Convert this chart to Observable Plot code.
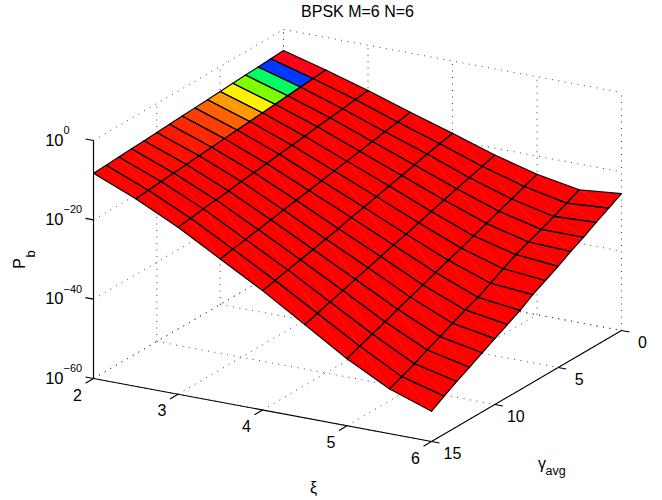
<!DOCTYPE html>
<html>
<head>
<meta charset="utf-8">
<script src="https://cdn.jsdelivr.net/npm/d3@7"></script>
<script src="https://cdn.jsdelivr.net/npm/@observablehq/plot@0.6"></script>
<style>html,body{margin:0;padding:0;background:#fff}svg{display:block}</style>
</head>
<body>
<div id="chart"></div>
<script>
// Values: log10(Pb) for each xi, gamma = 0..15
const xiValues = [2, 2.5, 3, 3.5, 4, 4.5, 5, 5.5, 6];
const gammaValues = [0,1,2,3,4,5,6,7,8,9,10,11,12,13,14,15];
const logXi20 = [-5.3,-5.5,-5.7,-5.9,-6.1,-6.3,-6.5,-6.7,-6.9,-7.1,-7.3,-7.5,-7.7,-7.9,-8.1,-8.25];
const logXi25 = [-8.2,-8.5,-8.8,-9.1,-9.4,-9.7,-10.0,-10.3,-10.6,-10.9,-11.2,-11.5,-11.8,-12.1,-12.4,-12.7];
const logXi30 = [-11.4,-11.8,-12.3,-12.7,-13.1,-13.6,-14.0,-14.4,-14.9,-15.3,-15.7,-16.2,-16.6,-17.0,-17.5,-17.9];
const logXi35 = [-14.9,-15.5,-16.1,-16.7,-17.3,-17.9,-18.5,-19.1,-19.7,-20.3,-20.9,-21.5,-22.1,-22.7,-23.3,-23.9];
const logXi40 = [-18.2,-19.0,-19.7,-20.6,-21.4,-22.2,-23.0,-23.8,-24.5,-25.5,-26.2,-27.0,-27.7,-28.4,-29.2,-29.9];
const logXi45 = [-21.7,-22.7,-23.7,-24.6,-25.6,-26.6,-27.6,-28.6,-29.5,-30.5,-31.5,-32.5,-33.5,-34.5,-35.5,-36.5];
const logXi50 = [-24.6,-25.8,-27.1,-28.3,-29.5,-30.8,-32.0,-33.2,-34.4,-35.7,-36.9,-38.1,-39.4,-40.6,-41.8,-43.1];
const logXi55 = [-26.5,-28.0,-29.5,-30.9,-32.2,-33.5,-35.2,-37.0,-38.7,-40.0,-41.5,-43.0,-44.5,-46.1,-47.5,-48.7];
const logXi60 = [-25.5,-27.3,-29.0,-30.9,-32.6,-34.5,-36.2,-37.9,-40.0,-41.7,-43.4,-45.1,-46.9,-48.6,-50.4,-52.4];
const logGrid = [logXi20,logXi25,logXi30,logXi35,logXi40,logXi45,logXi50,logXi55,logXi60];

const xiTicks = [2,3,4,5,6];
const gammaTicks = [0,5,10,15];
const zTicks = [0,-20,-40,-60];
const hsvStops = ["#ff0000","#ffff00","#00ff00","#00ffff","#0000ff","#ff00ff","#ff0018"];

// Orthographic view of the 3-D box (MATLAB az/el) onto the scales' plane.
function view(xi, g, z) {
  const a = (xi - 2) / 4, b = (15 - g) / 15, c = (z + 60) / 60;
  return [93 + 338 * a + 190 * b, 378 + 63 * a - 111 * b - 238 * c];
}
const link = (p, q) => { const A = view(...p), B = view(...q); return {x1:A[0], y1:A[1], x2:B[0], y2:B[1]}; };

const pMax = Math.max(...logGrid.flat());
const cells = [], seams = [];
for (let i = 0; i < xiValues.length - 1; i++) for (let j = 0; j < gammaValues.length - 1; j++) {
  const corners = [[i,j],[i+1,j],[i+1,j+1],[i,j+1],[i,j]];
  const value = Math.pow(10, logGrid[i][j] - pMax);
  for (const [m,n] of corners) {
    const [x,y] = view(xiValues[m], gammaValues[n], logGrid[m][n]);
    cells.push({x, y, cell: i + "-" + j, value});
  }
  seams.push(link([xiValues[i],gammaValues[j],logGrid[i][j]], [xiValues[i+1],gammaValues[j+1],logGrid[i+1][j+1]]));
}

const grid = [];
for (const z of zTicks) {
  grid.push(link([2,15,z],[2,0,z]));
  grid.push(link([2,0,z],[6,0,z]));
}
for (const g of gammaTicks) {
  grid.push(link([2,g,-60],[2,g,0]));
  grid.push(link([2,g,-60],[6,g,-60]));
}
for (const xi of xiTicks) {
  grid.push(link([xi,0,-60],[xi,0,0]));
  grid.push(link([xi,15,-60],[xi,0,-60]));
}

const axes = [link([2,15,0],[2,15,-60]), link([2,15,-60],[6,15,-60]), link([6,15,-60],[6,0,-60])];
const ticks = [
  ...zTicks.map(z => link([2,15,z],[1.905,15,z])),
  ...xiTicks.map(xi => link([xi,15,-60],[xi,15.63,-60])),
  ...gammaTicks.map(g => link([6,g,-60],[6.095,g,-60]))
];
const at = (p, text) => { const [x,y] = view(...p); return {x, y, text}; };

const font = "'Liberation Sans', Helvetica, Arial, sans-serif";
const linkMark = (data, o) => Plot.link(data, {x1:"x1", y1:"y1", x2:"x2", y2:"y2", ...o});

const chart = Plot.plot({
  width: 662, height: 500,
  margin: 0,
  style: {fontFamily: font, background: "#fff"},
  x: {domain:[0,662], range:[0,662], axis:null},
  y: {domain:[0,500], range:[0,500], axis:null},
  color: {type:"linear", domain:[0,1/6,2/6,3/6,4/6,5/6,1], range:hsvStops, interpolate:"rgb"},
  marks: [
    linkMark(grid, {stroke:"#444", strokeWidth:1, strokeDasharray:"1 5.5"}),
    Plot.line(cells, {x:"x", y:"y", z:"cell", fill:"value", stroke:null, curve:"linear"}),
    linkMark(seams, {stroke:"#ffffff", strokeOpacity:0.18, strokeWidth:0.5}),
    Plot.line(cells, {x:"x", y:"y", z:"cell", stroke:"#000", strokeWidth:1.15, curve:"linear"}),
    linkMark(axes, {stroke:"#000", strokeWidth:1.15}),
    linkMark(ticks, {stroke:"#000", strokeWidth:1.15}),
    Plot.text(xiTicks.map(xi => at([xi,15,-60], String(xi))), {x:"x", y:"y", text:"text", dx:-16, dy:17, fontSize:16, fill:"#000"}),
    Plot.text(gammaTicks.map(g => at([6,g,-60], String(g))), {x:"x", y:"y", text:"text", dx:21, dy:12, fontSize:16, fill:"#000"}),
    Plot.text(zTicks.map(z => at([2,15,z], "10")), {x:"x", y:"y", text:"text", dx:-30, dy:0, textAnchor:"end", fontSize:16.5, fill:"#000"}),
    Plot.text(zTicks.map(z => at([2,15,z], z === 0 ? "0" : "\u2212" + (-z))), {x:"x", y:"y", text:"text", dx:-30, dy:-10, textAnchor:"start", fontSize:11, fill:"#000"}),
    Plot.text([{x:357, y:11, text:"BPSK M=6 N=6"}], {x:"x", y:"y", text:"text", fontSize:16, fill:"#000"}),
    Plot.text([{x:19, y:263, text:"P"}], {x:"x", y:"y", text:"text", rotate:-90, fontSize:16, fill:"#000"}),
    Plot.text([{x:30, y:253.5, text:"b"}], {x:"x", y:"y", text:"text", rotate:-90, fontSize:13, fill:"#000"}),
    Plot.text([{x:313, y:487, text:"\u03be"}], {x:"x", y:"y", text:"text", fontSize:16, fill:"#000"}),
    Plot.text([{x:541.5, y:463, text:"\u03b3"}], {x:"x", y:"y", text:"text", fontSize:16, fill:"#000"}),
    Plot.text([{x:545, y:470, text:"avg"}], {x:"x", y:"y", text:"text", textAnchor:"start", fontSize:12.5, fill:"#000"})
  ]
});
document.getElementById("chart").append(chart);
</script>
</body>
</html>
